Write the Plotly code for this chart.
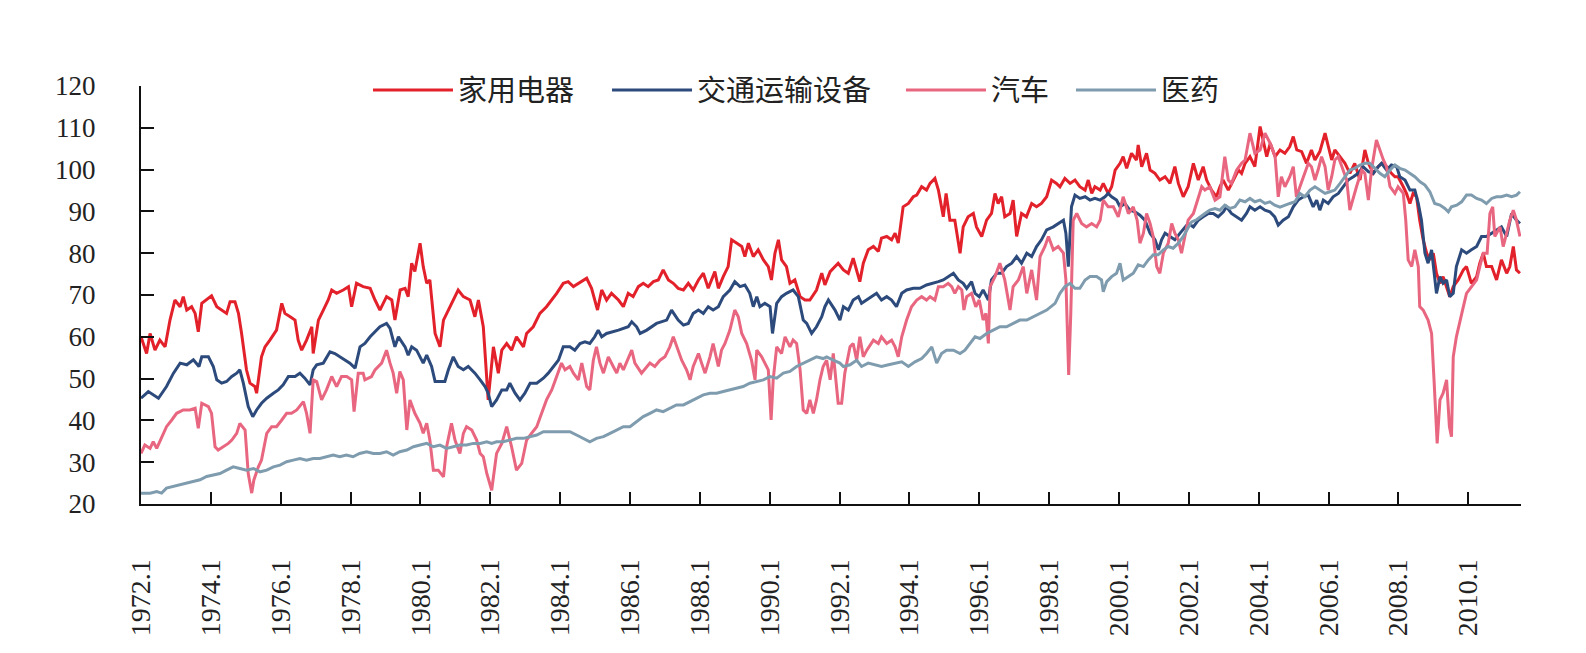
import plotly.graph_objects as go

# ---------------- data (x = decimal year) ----------------
appliance_x = [1972.00,1972.16,1972.26,1972.40,1972.54,1972.69,1972.83,1972.97,1973.12,1973.21,1973.31,1973.45,1973.55,1973.64,1973.74,1973.88,
 1974.02,1974.17,1974.31,1974.45,1974.55,1974.69,1974.79,1974.88,1975.02,1975.12,1975.26,1975.31,1975.45,1975.55,1975.69,1975.88,
 1976.03,1976.12,1976.27,1976.41,1976.50,1976.60,1976.74,1976.89,1976.93,1977.08,1977.22,1977.36,1977.46,1977.60,1977.79,1977.94,
 1978.03,1978.17,1978.36,1978.56,1978.70,1978.84,1979.03,1979.18,1979.27,1979.42,1979.56,1979.65,1979.75,1979.84,1979.99,1980.08,
 1980.18,1980.27,1980.42,1980.56,1980.66,1980.80,1980.94,1981.08,1981.23,1981.42,1981.56,1981.66,1981.80,1981.94,1982.09,1982.23,
 1982.33,1982.47,1982.61,1982.75,1982.95,1983.04,1983.23,1983.42,1983.61,1983.76,1983.90,1984.09,1984.23,1984.38,1984.52,1984.76,
 1984.90,1985.07,1985.19,1985.33,1985.47,1985.67,1985.81,1985.95,1986.09,1986.24,1986.38,1986.52,1986.67,1986.81,1986.95,1987.10,
 1987.24,1987.38,1987.53,1987.67,1987.81,1987.96,1988.10,1988.24,1988.43,1988.53,1988.67,1988.81,1988.91,1989.05,1989.20,1989.29,
 1989.39,1989.53,1989.67,1989.82,1989.96,1990.05,1990.15,1990.25,1990.34,1990.48,1990.58,1990.72,1990.87,1991.01,1991.15,1991.34,
 1991.49,1991.58,1991.73,1991.96,1992.11,1992.25,1992.39,1992.58,1992.68,1992.82,1992.97,1993.11,1993.20,1993.35,1993.49,1993.59,
 1993.68,1993.82,1993.97,1994.11,1994.21,1994.35,1994.49,1994.59,1994.73,1994.83,1994.97,1995.05,1995.16,1995.30,1995.45,1995.54,
 1995.68,1995.83,1995.92,1996.07,1996.21,1996.35,1996.45,1996.54,1996.64,1996.73,1996.88,1996.97,1997.07,1997.21,1997.35,1997.50,
 1997.64,1997.78,1997.93,1998.07,1998.21,1998.31,1998.45,1998.60,1998.74,1998.88,1999.03,1999.12,1999.22,1999.31,1999.46,1999.55,
 1999.69,1999.79,1999.89,2000.03,2000.12,2000.22,2000.36,2000.50,2000.55,2000.65,2000.79,2000.89,2001.03,2001.17,2001.32,2001.46,
 2001.60,2001.70,2001.84,2001.98,2002.13,2002.27,2002.41,2002.51,2002.65,2002.79,2002.89,2002.98,2003.13,2003.23,2003.32,2003.42,
 2003.51,2003.61,2003.75,2003.89,2004.04,2004.13,2004.23,2004.33,2004.47,2004.61,2004.75,2004.89,2004.99,2005.09,2005.23,2005.37,
 2005.51,2005.61,2005.75,2005.90,2005.99,2006.09,2006.18,2006.33,2006.47,2006.61,2006.75,2006.90,2007.04,2007.14,2007.28,2007.42,
 2007.52,2007.66,2007.80,2007.90,2007.99,2008.14,2008.23,2008.33,2008.42,2008.52,2008.61,2008.71,2008.81,2008.90,2009.00,2009.09,
 2009.19,2009.28,2009.38,2009.47,2009.57,2009.71,2009.86,2009.95,2010.09,2010.24,2010.33,2010.43,2010.52,2010.67,2010.81,2010.95,
 2011.10,2011.19,2011.29,2011.38,2011.48]
appliance_y = [60.0,56.0,60.8,56.8,59.2,57.6,64.0,68.8,67.2,69.6,66.4,67.2,65.6,61.2,68.0,68.8,
 69.8,67.2,66.4,65.6,68.4,68.4,65.6,60.8,52.1,48.9,48.1,46.5,55.2,57.6,59.2,61.6,
 68.0,65.6,64.8,64.0,59.2,56.8,59.2,62.4,56.0,64.0,66.4,68.8,71.2,70.4,71.2,72.0,
 67.2,72.8,72.0,71.6,68.8,66.4,69.6,68.8,64.0,71.2,71.6,69.6,77.6,75.6,82.4,76.8,
 72.8,73.6,60.8,57.6,64.0,66.4,68.8,71.2,69.6,68.8,64.8,68.8,62.4,44.9,57.6,51.3,
 56.8,58.4,56.8,60.0,57.6,60.8,62.4,65.6,67.2,68.8,70.4,72.8,73.2,72.0,72.8,74.0,
 71.6,66.4,71.2,68.8,70.4,68.8,67.2,70.4,69.6,72.0,72.8,72.0,73.2,73.6,76.0,73.6,
 72.8,71.6,71.2,72.8,71.2,73.6,75.2,71.6,75.6,71.6,74.4,76.8,83.2,82.4,81.6,79.2,
 82.4,79.2,80.8,78.4,76.8,73.6,80.0,83.2,78.4,76.8,72.8,73.6,69.6,68.8,68.8,71.2,
 75.2,72.4,75.6,77.6,76.0,75.2,78.8,73.2,77.6,80.8,81.6,80.4,83.6,84.0,83.2,84.8,
 82.4,91.1,91.9,93.5,93.9,95.9,95.1,96.7,97.9,95.1,88.7,94.3,87.9,87.9,80.0,86.3,
 88.7,89.5,86.3,84.0,87.9,89.5,94.3,91.9,93.5,88.7,89.5,92.7,84.0,89.5,88.7,91.9,
 91.1,91.9,93.5,97.5,96.7,95.9,97.9,96.7,97.5,95.9,95.1,97.5,94.3,95.9,95.1,96.7,
 94.3,95.9,99.9,101.5,103.1,100.3,103.9,102.3,105.9,100.7,103.9,99.9,99.1,97.5,98.3,96.7,
 100.7,96.7,93.5,95.9,101.5,97.5,100.7,97.5,95.1,93.5,95.9,97.5,95.1,96.7,98.3,99.9,
 99.1,101.5,103.1,100.7,110.3,107.1,103.1,106.3,103.1,104.7,103.9,105.5,107.9,104.7,104.3,101.5,
 104.7,102.3,104.3,108.7,105.5,102.3,104.7,103.1,101.5,99.1,101.5,97.5,104.7,101.5,99.1,100.7,
 101.5,100.7,99.1,98.3,98.3,95.9,94.3,91.9,94.3,93.5,87.9,83.2,80.0,78.4,80.0,75.2,
 72.8,74.4,72.0,69.6,72.0,73.6,76.0,76.8,72.8,74.4,77.6,80.0,76.8,76.8,73.6,78.4,
 75.2,76.8,81.6,76.0,75.2]

transport_x = [1972.00,1972.21,1972.50,1972.73,1972.93,1973.12,1973.31,1973.50,1973.66,1973.74,1973.93,1974.07,1974.17,1974.31,1974.45,1974.60,
 1974.74,1974.83,1974.93,1975.07,1975.20,1975.31,1975.45,1975.60,1975.79,1975.93,1976.07,1976.22,1976.41,1976.55,1976.69,1976.84,
 1976.93,1977.03,1977.22,1977.41,1977.55,1977.70,1977.84,1977.98,1978.13,1978.27,1978.41,1978.56,1978.84,1979.03,1979.13,1979.27,
 1979.37,1979.56,1979.65,1979.75,1979.89,1980.08,1980.18,1980.32,1980.42,1980.70,1980.80,1980.94,1981.08,1981.23,1981.37,1981.56,
 1981.71,1981.85,1981.94,1982.04,1982.18,1982.33,1982.47,1982.56,1982.71,1982.85,1982.99,1983.14,1983.33,1983.52,1983.66,1983.80,
 1983.95,1984.09,1984.28,1984.42,1984.57,1984.71,1984.85,1984.99,1985.09,1985.19,1985.33,1985.67,1985.95,1986.05,1986.19,1986.29,
 1986.48,1986.76,1987.05,1987.19,1987.38,1987.53,1987.67,1987.81,1987.96,1988.10,1988.24,1988.38,1988.53,1988.67,1988.86,1989.00,
 1989.15,1989.29,1989.43,1989.53,1989.63,1989.72,1989.86,1990.01,1990.08,1990.20,1990.34,1990.48,1990.67,1990.82,1990.96,1991.06,
 1991.20,1991.34,1991.49,1991.58,1991.68,1991.87,1992.01,1992.11,1992.25,1992.39,1992.54,1992.63,1992.92,1993.06,1993.20,1993.35,
 1993.49,1993.63,1993.78,1993.92,1994.11,1994.30,1994.49,1994.68,1994.83,1994.97,1995.11,1995.26,1995.40,1995.54,1995.64,1995.78,
 1995.88,1996.00,1996.11,1996.26,1996.35,1996.50,1996.64,1996.78,1996.93,1997.07,1997.21,1997.36,1997.50,1997.64,1997.78,1997.93,
 1998.12,1998.26,1998.41,1998.48,1998.55,1998.64,1998.74,1998.88,1999.03,1999.17,1999.31,1999.46,1999.60,1999.69,1999.79,1999.93,
 2000.03,2000.17,2000.31,2000.46,2000.60,2000.74,2000.89,2001.03,2001.13,2001.22,2001.32,2001.46,2001.60,2001.75,2001.84,2001.98,
 2002.13,2002.27,2002.41,2002.56,2002.70,2002.84,2002.99,2003.08,2003.22,2003.37,2003.51,2003.65,2003.75,2003.89,2004.04,2004.18,
 2004.32,2004.46,2004.56,2004.70,2004.85,2004.99,2005.13,2005.28,2005.42,2005.56,2005.66,2005.75,2005.85,2005.99,2006.13,2006.28,
 2006.42,2006.56,2006.71,2006.85,2006.99,2007.14,2007.28,2007.42,2007.52,2007.66,2007.80,2007.95,2008.04,2008.19,2008.33,2008.47,
 2008.57,2008.66,2008.76,2008.85,2008.95,2009.04,2009.09,2009.19,2009.28,2009.38,2009.47,2009.57,2009.66,2009.81,2009.95,2010.09,
 2010.24,2010.38,2010.52,2010.67,2010.81,2010.95,2011.10,2011.24,2011.38,2011.48]
transport_y = [45.3,46.9,45.3,48.1,51.3,53.7,53.3,54.5,52.9,55.2,55.2,52.9,49.7,48.9,49.3,50.5,
 51.3,52.1,48.9,43.3,40.9,42.5,44.1,45.3,46.5,47.3,48.5,50.5,50.5,51.3,50.1,48.5,
 52.1,53.3,53.7,56.4,56.0,55.2,54.4,53.7,52.5,57.6,58.4,60.0,62.4,63.2,62.0,57.6,
 60.0,57.6,55.6,57.6,56.8,53.7,55.6,52.9,49.3,49.3,52.1,55.2,52.9,52.1,52.9,51.3,
 49.7,48.1,46.5,43.3,44.9,47.3,47.3,48.9,46.5,44.9,46.5,48.9,48.9,50.1,51.3,52.9,
 54.4,57.6,57.6,56.8,58.4,58.8,58.4,60.0,61.6,60.0,60.8,61.6,62.4,63.6,62.4,60.8,
 61.6,63.2,64.0,66.4,64.0,62.8,63.2,65.6,66.4,65.6,67.2,66.4,67.2,69.6,71.2,73.2,
 72.0,72.4,70.4,67.2,69.6,67.2,68.0,67.2,60.8,68.0,69.6,70.4,71.2,69.6,64.0,63.2,
 60.8,62.4,64.8,67.2,68.8,66.4,64.0,67.2,66.4,68.8,69.6,68.0,69.6,70.4,68.8,69.6,
 68.8,67.2,70.4,71.2,71.6,71.6,72.4,72.8,73.2,73.6,74.4,75.2,73.6,72.8,71.6,73.2,
 70.4,69.6,71.2,68.8,73.6,75.2,75.2,76.8,77.6,79.2,77.6,80.0,79.2,81.6,83.2,85.6,
 86.3,87.1,87.9,84.8,76.8,91.1,93.9,93.1,93.5,92.7,93.1,92.7,93.5,94.3,93.5,92.7,
 91.1,91.9,90.3,89.9,89.1,87.9,84.8,83.2,80.8,83.2,84.8,84.0,83.2,84.8,85.6,87.1,
 86.3,87.9,88.7,89.5,89.5,88.7,89.9,91.1,89.5,88.7,87.9,89.5,91.1,90.3,91.1,90.3,
 89.9,88.7,86.7,87.9,88.7,91.1,92.7,93.5,93.9,91.1,92.7,90.3,92.7,91.9,93.5,94.3,
 95.9,97.5,98.3,99.1,100.7,99.5,99.1,100.7,101.5,99.9,101.1,100.7,98.3,97.5,95.1,95.1,
 91.9,87.9,80.0,77.6,80.8,73.6,70.4,74.4,72.8,73.6,69.6,70.4,76.8,80.8,80.0,80.8,
 81.6,84.0,84.0,84.8,85.6,86.3,84.0,89.5,87.9,87.1]

auto_x = [1972.00,1972.11,1972.26,1972.35,1972.45,1972.59,1972.73,1972.88,1973.02,1973.21,1973.40,1973.55,1973.64,1973.74,1973.93,1974.02,
 1974.12,1974.21,1974.36,1974.50,1974.60,1974.74,1974.83,1974.98,1975.07,1975.17,1975.23,1975.36,1975.45,1975.60,1975.74,1975.88,
 1976.03,1976.17,1976.31,1976.46,1976.65,1976.74,1976.84,1976.93,1977.03,1977.17,1977.31,1977.46,1977.60,1977.74,1977.89,1978.03,
 1978.10,1978.22,1978.36,1978.41,1978.60,1978.70,1978.89,1979.03,1979.13,1979.22,1979.32,1979.41,1979.51,1979.61,1979.70,1979.84,
 1979.99,1980.08,1980.18,1980.27,1980.37,1980.51,1980.66,1980.75,1980.89,1980.99,1981.13,1981.23,1981.32,1981.47,1981.61,1981.71,
 1981.80,1981.90,1982.04,1982.18,1982.33,1982.47,1982.61,1982.75,1982.90,1983.04,1983.18,1983.33,1983.47,1983.61,1983.76,1983.90,
 1984.04,1984.14,1984.28,1984.38,1984.52,1984.62,1984.76,1984.85,1984.95,1985.04,1985.14,1985.24,1985.38,1985.52,1985.62,1985.71,
 1985.81,1986.05,1986.14,1986.33,1986.57,1986.71,1986.86,1987.00,1987.14,1987.24,1987.34,1987.48,1987.62,1987.72,1987.81,1987.96,
 1988.05,1988.15,1988.29,1988.38,1988.53,1988.62,1988.72,1988.86,1989.00,1989.10,1989.20,1989.34,1989.48,1989.58,1989.63,1989.77,
 1989.96,1990.04,1990.10,1990.20,1990.34,1990.44,1990.58,1990.67,1990.77,1990.87,1990.96,1991.06,1991.15,1991.25,1991.34,1991.44,
 1991.53,1991.63,1991.73,1991.82,1991.96,1992.06,1992.15,1992.30,1992.39,1992.49,1992.58,1992.68,1992.78,1992.97,1993.11,1993.20,
 1993.35,1993.49,1993.59,1993.68,1993.78,1993.92,1994.06,1994.21,1994.35,1994.49,1994.59,1994.73,1994.83,1994.97,1995.11,1995.21,
 1995.30,1995.40,1995.50,1995.56,1995.64,1995.78,1995.90,1996.00,1996.11,1996.19,1996.26,1996.31,1996.45,1996.59,1996.73,1996.88,
 1996.97,1997.12,1997.26,1997.36,1997.50,1997.64,1997.74,1997.88,1997.98,1998.12,1998.26,1998.41,1998.48,1998.56,1998.62,1998.69,
 1998.79,1998.93,1999.07,1999.22,1999.36,1999.46,1999.55,1999.69,1999.84,1999.98,2000.12,2000.27,2000.41,2000.52,2000.60,2000.70,
 2000.79,2000.89,2000.98,2001.08,2001.17,2001.27,2001.41,2001.51,2001.60,2001.70,2001.79,2001.89,2001.98,2002.13,2002.22,2002.37,
 2002.46,2002.60,2002.75,2002.89,2003.03,2003.13,2003.22,2003.37,2003.51,2003.61,2003.75,2003.89,2004.04,2004.18,2004.33,2004.47,
 2004.56,2004.65,2004.75,2004.89,2004.99,2005.08,2005.18,2005.28,2005.42,2005.51,2005.61,2005.70,2005.80,2005.90,2005.99,2006.09,
 2006.18,2006.28,2006.42,2006.52,2006.61,2006.71,2006.80,2006.95,2007.04,2007.14,2007.23,2007.37,2007.47,2007.57,2007.66,2007.76,
 2007.90,2007.99,2008.14,2008.21,2008.28,2008.38,2008.47,2008.57,2008.61,2008.71,2008.85,2008.95,2009.02,2009.07,2009.11,2009.19,
 2009.28,2009.38,2009.46,2009.52,2009.57,2009.66,2009.76,2009.86,2009.95,2010.09,2010.24,2010.33,2010.43,2010.54,2010.62,2010.70,
 2010.76,2010.91,2011.00,2011.10,2011.19,2011.29,2011.38,2011.48]
auto_y = [32.1,34.1,33.3,34.9,33.3,35.7,38.5,40.1,41.7,42.5,42.5,42.9,38.1,44.1,43.3,41.7,
 33.7,32.9,33.7,34.5,35.3,36.9,39.3,37.7,27.3,22.6,25.7,28.9,30.5,36.9,38.5,38.5,
 40.1,41.7,41.7,42.5,44.5,41.7,36.9,49.7,49.3,44.9,47.3,50.5,48.1,50.5,50.5,49.7,
 42.1,51.3,51.3,49.7,50.5,52.1,53.7,56.8,53.7,51.3,46.5,51.7,49.7,37.7,44.9,41.7,
 39.3,36.9,39.3,35.3,28.1,28.1,26.5,33.7,39.3,35.3,32.1,36.9,38.5,37.7,35.3,32.1,
 31.3,27.3,23.3,32.1,34.5,38.5,33.7,28.1,29.7,35.3,36.9,38.5,41.7,44.9,47.3,50.5,
 53.7,52.1,52.9,51.3,49.7,53.7,48.1,47.3,54.4,57.6,53.7,51.3,55.2,52.9,51.3,53.7,
 52.1,56.8,53.7,51.3,53.7,52.9,54.4,55.2,57.6,60.0,57.6,54.4,52.1,49.7,52.9,56.0,
 53.7,51.3,55.2,58.4,52.9,56.8,58.4,61.6,66.4,64.8,60.8,58.4,54.4,49.7,56.8,55.2,
 52.1,40.1,49.7,57.6,56.0,60.0,57.6,59.2,58.4,52.1,42.5,41.7,44.9,41.7,44.9,49.7,
 52.9,54.4,49.7,56.0,44.1,44.1,51.3,57.6,58.4,54.4,60.0,55.2,56.8,59.2,58.4,60.0,
 58.4,59.2,57.6,55.2,60.0,64.0,67.2,68.8,69.6,68.8,69.6,68.8,72.0,72.0,72.8,72.0,
 70.4,72.0,71.2,66.4,69.6,70.4,67.2,68.8,64.0,65.6,58.4,72.0,74.4,77.6,73.6,66.4,
 72.0,73.6,76.8,70.4,76.0,68.8,79.2,81.6,84.0,80.8,81.6,80.0,73.6,50.9,65.6,87.9,
 89.5,87.1,86.3,87.1,86.3,87.9,92.7,91.1,91.1,88.7,93.5,89.5,91.1,87.9,82.4,84.8,
 89.5,87.1,84.0,76.8,75.2,80.0,82.4,87.1,84.8,83.2,80.0,84.0,87.9,89.5,91.9,95.9,
 95.1,95.9,92.7,93.5,103.1,97.5,96.7,99.9,101.5,102.3,108.7,103.9,104.7,108.7,106.3,103.1,
 93.5,98.3,95.9,98.3,100.7,93.5,95.9,98.3,101.5,100.7,97.5,99.9,103.1,100.7,95.1,98.3,
 102.3,103.1,99.9,97.5,90.3,93.5,95.9,99.9,99.1,92.7,99.9,107.1,104.7,102.3,100.7,95.9,
 94.3,95.9,94.3,87.9,78.4,76.8,80.8,76.8,67.2,66.4,64.0,60.8,49.7,41.7,34.5,44.9,
 46.5,49.7,38.5,36.1,55.2,60.0,64.0,67.2,70.4,72.0,73.6,76.8,80.0,80.0,89.5,91.1,
 84.0,86.3,81.6,84.8,87.9,90.3,87.9,84.0]

pharma_x = [1972.00,1972.26,1972.45,1972.59,1972.73,1972.93,1973.12,1973.31,1973.50,1973.69,1973.88,1974.07,1974.26,1974.45,1974.64,1974.83,
 1975.02,1975.22,1975.41,1975.60,1975.79,1975.98,1976.17,1976.36,1976.55,1976.74,1976.93,1977.12,1977.31,1977.50,1977.69,1977.88,
 1978.07,1978.26,1978.46,1978.65,1978.84,1979.03,1979.22,1979.41,1979.61,1979.80,1979.99,1980.18,1980.37,1980.56,1980.75,1980.94,
 1981.13,1981.32,1981.51,1981.71,1981.90,1982.04,1982.18,1982.37,1982.56,1982.75,1982.95,1983.14,1983.33,1983.52,1983.71,1983.90,
 1984.09,1984.28,1984.47,1984.66,1984.85,1985.04,1985.24,1985.43,1985.62,1985.81,1986.00,1986.19,1986.38,1986.57,1986.76,1986.95,
 1987.14,1987.33,1987.53,1987.72,1987.91,1988.10,1988.29,1988.48,1988.67,1988.86,1989.05,1989.24,1989.43,1989.63,1989.82,1990.01,
 1990.20,1990.39,1990.58,1990.77,1990.96,1991.15,1991.34,1991.53,1991.63,1991.82,1992.01,1992.11,1992.30,1992.49,1992.63,1992.82,
 1993.01,1993.20,1993.40,1993.59,1993.78,1993.97,1994.16,1994.35,1994.49,1994.64,1994.78,1994.92,1995.06,1995.26,1995.45,1995.59,
 1995.73,1995.88,1996.02,1996.21,1996.40,1996.59,1996.78,1996.97,1997.16,1997.36,1997.55,1997.74,1997.93,1998.17,1998.31,1998.45,
 1998.60,1998.74,1998.88,1999.03,1999.17,1999.36,1999.50,1999.55,1999.65,1999.79,1999.93,2000.03,2000.12,2000.27,2000.41,2000.55,
 2000.70,2000.84,2000.98,2001.12,2001.27,2001.41,2001.55,2001.70,2001.84,2001.94,2002.08,2002.22,2002.37,2002.46,2002.60,2002.75,
 2002.89,2003.03,2003.18,2003.32,2003.46,2003.61,2003.75,2003.89,2004.04,2004.18,2004.32,2004.46,2004.61,2004.75,2004.89,2005.04,
 2005.18,2005.32,2005.47,2005.61,2005.75,2005.90,2006.04,2006.18,2006.33,2006.47,2006.61,2006.75,2006.90,2007.04,2007.18,2007.33,
 2007.47,2007.61,2007.76,2007.90,2008.04,2008.19,2008.33,2008.47,2008.62,2008.76,2008.90,2009.04,2009.19,2009.33,2009.43,2009.52,
 2009.67,2009.81,2009.95,2010.09,2010.24,2010.38,2010.52,2010.67,2010.81,2010.95,2011.10,2011.24,2011.38,2011.48]
pharma_y = [22.6,22.6,23.0,22.6,23.8,24.2,24.6,25.0,25.4,25.8,26.6,27.0,27.3,28.1,28.9,28.5,
 28.1,28.5,27.7,28.1,28.9,29.3,30.1,30.5,30.9,30.5,30.9,30.9,31.3,31.7,31.3,31.7,
 31.3,32.1,32.5,32.1,32.1,32.5,31.7,32.5,32.9,33.7,34.1,34.5,33.7,34.1,33.3,33.7,
 34.1,34.1,34.5,34.5,34.9,34.5,34.9,34.9,35.3,35.7,35.7,36.1,36.5,37.3,37.3,37.3,
 37.3,37.3,36.5,35.7,34.9,35.7,36.1,36.9,37.7,38.5,38.5,39.7,40.9,41.7,42.5,42.1,
 42.9,43.7,43.7,44.5,45.3,46.1,46.5,46.5,46.9,47.3,47.7,48.1,48.9,49.3,49.7,50.5,
 50.1,51.3,51.7,52.9,53.7,54.4,55.2,54.8,55.2,54.4,53.7,52.9,53.3,54.4,52.9,53.7,
 53.3,52.9,53.3,53.7,54.0,52.9,54.0,54.8,56.0,57.6,53.7,56.0,56.8,56.8,56.0,56.8,
 58.4,60.0,59.6,60.8,61.6,62.4,62.4,63.2,64.0,64.0,64.8,65.6,66.4,68.0,70.4,72.0,
 72.8,71.6,71.6,73.6,74.4,74.4,73.6,70.8,73.2,74.4,75.2,77.6,73.6,74.4,75.2,77.2,
 76.8,78.4,79.6,79.6,80.8,81.6,81.2,82.4,84.0,85.5,87.5,88.0,89.0,89.5,90.3,90.7,
 90.3,91.5,90.7,91.1,92.7,92.3,93.1,92.3,92.7,91.9,92.3,91.5,91.0,91.5,91.9,92.3,
 94.3,93.5,95.1,95.9,95.1,94.3,94.7,95.1,96.7,98.3,99.9,100.3,101.1,101.5,101.5,100.3,
 99.1,98.3,99.9,101.1,100.3,99.9,99.1,98.3,97.1,96.3,94.7,91.9,91.5,90.7,89.9,91.1,
 91.5,92.3,93.9,93.9,93.1,92.7,91.9,93.1,93.5,93.5,93.9,93.5,93.9,94.7]

series_names = ["家用电器", "交通运输设备", "汽车", "医药"]
series_colors = ["#E3212B", "#2C4A7B", "#E8667F", "#7F9CAF"]
tick_years = list(range(1972, 2011, 2))
tick_labels = [f"{y}.1" for y in tick_years]

# ---------------- figure ----------------
FONT = "'Liberation Serif', 'Times New Roman', 'Noto Sans CJK SC', serif"
legend_ids = ["legend", "legend2", "legend3", "legend4"]
legend_x = [0.1645, 0.3377, 0.5507, 0.6739]

fig = go.Figure()
for name, color, xs, ys, lid in zip(series_names, series_colors,
                                    [appliance_x, transport_x, auto_x, pharma_x],
                                    [appliance_y, transport_y, auto_y, pharma_y], legend_ids):
    fig.add_trace(go.Scatter(x=xs, y=ys, mode="lines", name=name, legend=lid,
                             line=dict(color=color, width=3)))

layout_legends = {}
for lid, lx in zip(legend_ids, legend_x):
    layout_legends[lid] = dict(orientation="h", x=lx, xanchor="left", y=0.99, yanchor="middle",
                               bgcolor="rgba(0,0,0,0)", font=dict(size=29, family=FONT, color="#222"),
                               itemwidth=80)

fig.update_layout(
    width=1586, height=653,
    margin=dict(l=141, r=65, t=86, b=149),
    paper_bgcolor="white", plot_bgcolor="white",
    font=dict(family=FONT, size=27, color="#222"),
    showlegend=True,
    xaxis=dict(range=[1972, 2011.51], tickmode="array", tickvals=tick_years, ticktext=tick_labels,
               tickangle=-90, ticks="inside", ticklen=12, tickwidth=1.5, tickcolor="#111",
               showline=True, linecolor="#111", linewidth=2, showgrid=False, zeroline=False,
               ticklabelstandoff=42, tickfont=dict(size=28)),
    yaxis=dict(range=[20, 120], tickmode="linear", tick0=20, dtick=10,
               ticks="inside", ticklen=13, tickwidth=1.5, tickcolor="#111",
               showline=True, linecolor="#111", linewidth=2, showgrid=False, zeroline=False,
               ticklabelstandoff=38, tickfont=dict(size=27)),
    **layout_legends,
)

fig.write_html("out.html")
